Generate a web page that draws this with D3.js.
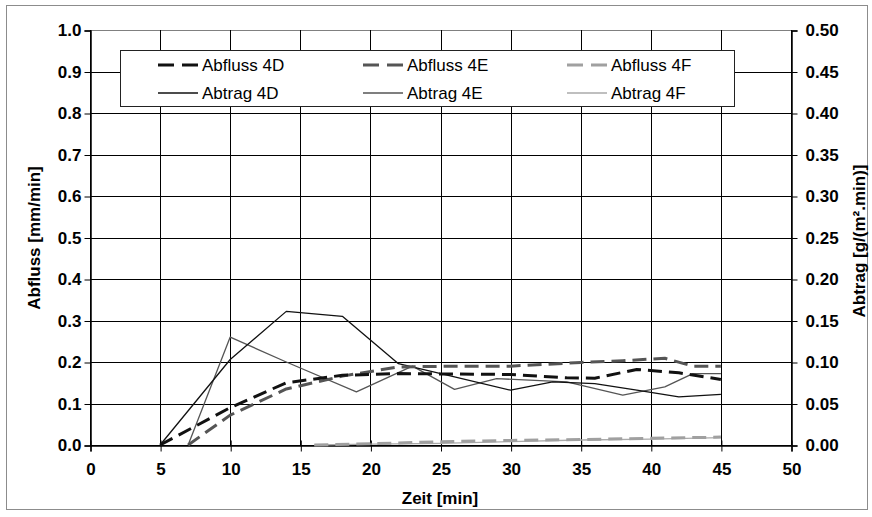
<!DOCTYPE html>
<html>
<head>
<meta charset="utf-8">
<script src="https://cdn.jsdelivr.net/npm/d3@7/dist/d3.min.js"></script>
<style>
  html, body { margin: 0; padding: 0; background: #fff; }
  svg { display: block; font-family: "Liberation Sans", Arial, sans-serif; }
</style>
</head>
<body>
<svg id="chart" width="872" height="517"></svg>
<script>
// Time axis ticks [min], left axis ticks (Abfluss), right axis ticks (Abtrag)
const xTicks = [0, 5, 10, 15, 20, 25, 30, 35, 40, 45, 50];
const yLeftTicks = [0, 0.1, 0.2, 0.3, 0.4, 0.5, 0.6, 0.7, 0.8, 0.9, 1.0];
const yRightTicks = [0, 0.05, 0.10, 0.15, 0.20, 0.25, 0.30, 0.35, 0.40, 0.45, 0.50];

// Runoff [mm/min] as [time, value]
const abfluss4D = [[5, 0], [10, 0.09], [14, 0.15], [18, 0.168], [22, 0.172], [26, 0.171], [30, 0.170], [34, 0.162], [36, 0.161], [39, 0.182], [42, 0.174], [45, 0.158]];
const abfluss4E = [[7, 0], [10, 0.072], [14, 0.135], [18, 0.166], [22, 0.188], [26, 0.19], [30, 0.19], [35, 0.199], [38, 0.203], [41, 0.209], [43, 0.19], [45, 0.19]];
const abfluss4F = [[16, 0], [20, 0.003], [25, 0.008], [30, 0.011], [35, 0.013], [40, 0.016], [45, 0.019]];

// Soil loss [g/(m².min)] as [time, value]
const abtrag4D = [[5, 0], [10, 0.103], [14, 0.161], [18, 0.155], [22, 0.098], [26, 0.082], [30, 0.066], [33, 0.076], [36, 0.074], [39, 0.066], [42, 0.058], [45, 0.061]];
const abtrag4E = [[7, 0], [10, 0.13], [14, 0.1], [19, 0.064], [23, 0.095], [26, 0.067], [29, 0.08], [34, 0.076], [38, 0.06], [41, 0.07], [43, 0.086], [45, 0.086]];
const abtrag4F = [[16, 0], [20, 0.001], [25, 0.002], [30, 0.004], [35, 0.006], [40, 0.007], [45, 0.009]];

const legendNames = ["Abfluss 4D", "Abfluss 4E", "Abfluss 4F", "Abtrag 4D", "Abtrag 4E", "Abtrag 4F"];

const svg = d3.select("#chart");
const plot = { left: 90, right: 791, top: 30, bottom: 445 };

const x = d3.scaleLinear().domain([0, 50]).range([plot.left, plot.right]);
const yL = d3.scaleLinear().domain([0, 1]).range([plot.bottom, plot.top]);
const yR = d3.scaleLinear().domain([0, 0.5]).range([plot.bottom, plot.top]);

// outer frame
svg.append("rect")
  .attr("x", 6.5).attr("y", 5.5).attr("width", 861).attr("height", 504)
  .attr("fill", "#fff").attr("stroke", "#8c8c8c").attr("stroke-width", 1);

// gridlines
const grid = svg.append("g");
grid.selectAll("line.h").data(yLeftTicks).join("line")
  .attr("x1", plot.left).attr("x2", plot.right)
  .attr("y1", d => Math.round(yL(d)) + 0.5).attr("y2", d => Math.round(yL(d)) + 0.5)
  .attr("stroke", d => d === 1 ? "#808080" : "#000").attr("stroke-width", 1);
grid.selectAll("line.v").data(xTicks).join("line")
  .attr("y1", plot.top).attr("y2", plot.bottom)
  .attr("x1", d => Math.round(x(d)) + 0.5).attr("x2", d => Math.round(x(d)) + 0.5)
  .attr("stroke", "#000").attr("stroke-width", 1);

// axes
const tickFont = "17px";
const axLeft = svg.append("g").attr("transform", `translate(${plot.left + 0.5},0.5)`)
  .call(d3.axisLeft(yL).tickValues(yLeftTicks).tickFormat(d3.format(".1f")).tickSize(6).tickPadding(3));
const axRight = svg.append("g").attr("transform", `translate(${plot.right + 0.5},0.5)`)
  .call(d3.axisRight(yR).tickValues(yRightTicks).tickFormat(d3.format(".2f")).tickSize(6).tickPadding(8));
const axBottom = svg.append("g").attr("transform", `translate(0.5,${plot.bottom + 0.5})`)
  .call(d3.axisBottom(x).tickValues(xTicks).tickFormat(d3.format("d")).tickSize(6).tickPadding(11));

[axLeft, axRight, axBottom].forEach(g => {
  g.select(".domain").attr("stroke", "#000").attr("stroke-width", 1.5);
  g.selectAll(".tick line").attr("stroke", "#000");
  g.selectAll(".tick text")
    .attr("fill", "#000")
    .style("font-family", "'Liberation Sans', Arial, sans-serif")
    .style("font-size", tickFont)
    .style("font-weight", "bold");
});
axBottom.selectAll(".tick line").attr("y1", -5);

// axis titles
svg.append("text")
  .attr("transform", `translate(40,238) rotate(-90)`)
  .attr("text-anchor", "middle")
  .style("font-size", "17px").style("font-weight", "bold")
  .text("Abfluss [mm/min]");
svg.append("text")
  .attr("transform", `translate(865,241) rotate(-90)`)
  .attr("text-anchor", "middle")
  .style("font-size", "17px").style("font-weight", "bold")
  .text("Abtrag [g/(m\u00B2.min)]");
svg.append("text")
  .attr("x", 440).attr("y", 504)
  .attr("text-anchor", "middle")
  .style("font-size", "17px").style("font-weight", "bold")
  .text("Zeit [min]");

// series definitions
const series = [
  { name: legendNames[0], data: abfluss4D, y: yL, color: "#111", width: 3, dash: "14,7" },
  { name: legendNames[1], data: abfluss4E, y: yL, color: "#555", width: 3, dash: "14,7" },
  { name: legendNames[2], data: abfluss4F, y: yL, color: "#a0a0a0", width: 3, dash: "14,7" },
  { name: legendNames[3], data: abtrag4D, y: yR, color: "#111", width: 1.3, dash: null },
  { name: legendNames[4], data: abtrag4E, y: yR, color: "#555", width: 1.3, dash: null },
  { name: legendNames[5], data: abtrag4F, y: yR, color: "#aaa", width: 1.3, dash: null }
];

const lines = svg.append("g");
// thin lines underneath, dashed runoff lines on top
const drawOrder = [5, 4, 3, 2, 1, 0];
drawOrder.forEach(i => {
  const s = series[i];
  const gen = d3.line().x(d => x(d[0])).y(d => s.y(d[1]));
  lines.append("path")
    .datum(s.data)
    .attr("d", gen)
    .attr("fill", "none")
    .attr("stroke", s.color)
    .attr("stroke-width", s.width)
    .attr("stroke-dasharray", s.dash)
    .attr("stroke-linejoin", "round");
});

// legend
const legend = svg.append("g");
legend.append("rect")
  .attr("x", 120.5).attr("y", 50.5).attr("width", 614).attr("height", 56)
  .attr("fill", "#fff").attr("stroke", "#222").attr("stroke-width", 1);
const colX = [158, 363, 567];
const rowY = [65, 93];
series.forEach((s, i) => {
  const cx = colX[i % 3], cy = rowY[Math.floor(i / 3)];
  legend.append("line")
    .attr("x1", cx).attr("x2", cx + 40).attr("y1", cy).attr("y2", cy)
    .attr("stroke", s.color).attr("stroke-width", s.dash ? 3 : 1.3)
    .attr("stroke-dasharray", s.dash ? "16,8" : null);
  legend.append("text")
    .attr("x", cx + 44).attr("y", cy).attr("dy", "0.36em")
    .style("font-size", "17px")
    .text(s.name);
});
</script>
</body>
</html>
